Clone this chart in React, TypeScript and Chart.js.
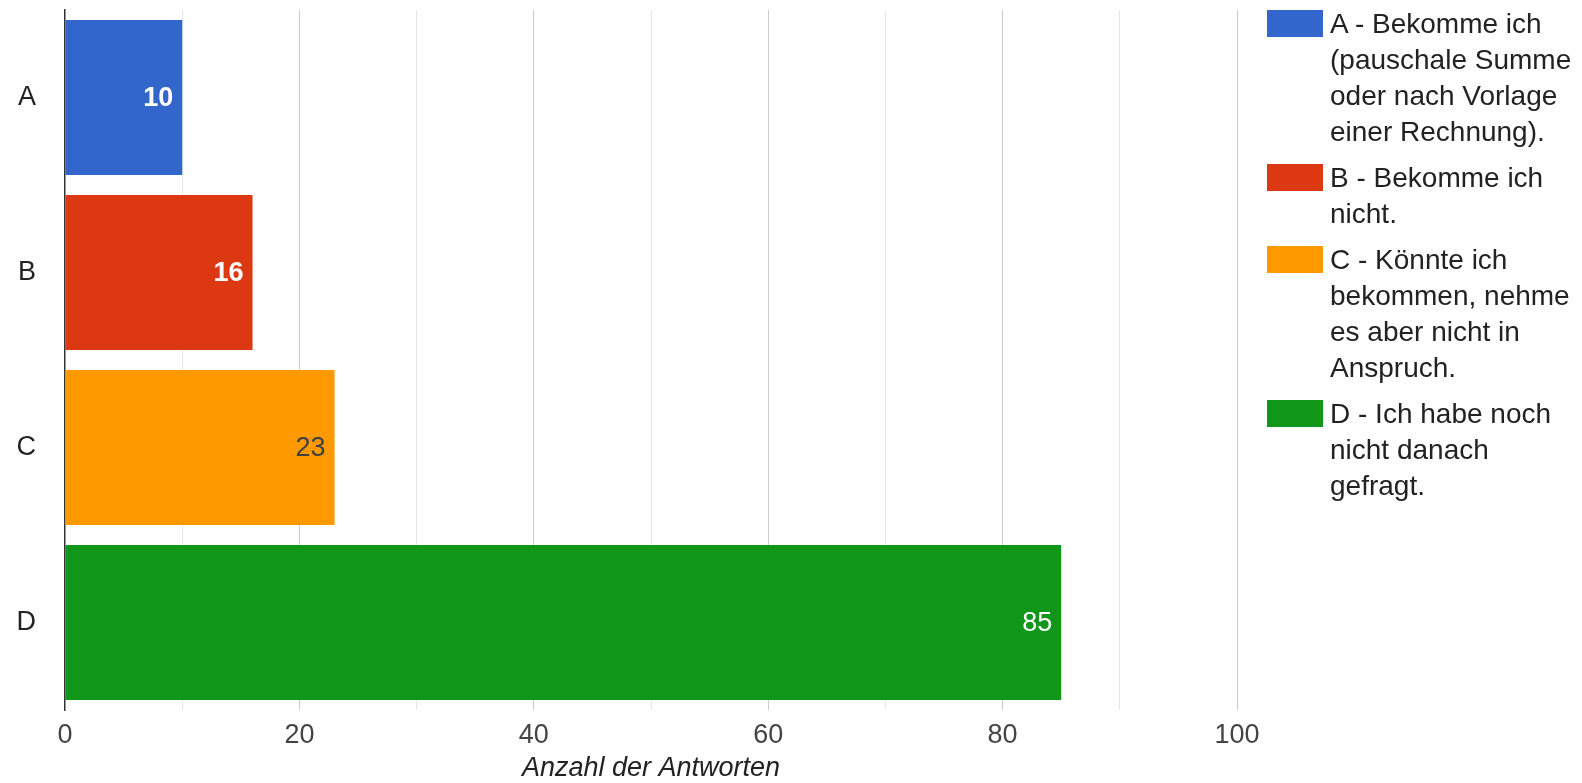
import React, { useEffect, useRef } from "react";
import { Chart, registerables } from "chart.js";

Chart.register(...registerables);

// Survey categories and number of answers
const categories = ["A", "B", "C", "D"];
const answers = [10, 16, 23, 85];
const legendLabels = [
  "A - Bekomme ich (pauschale Summe oder nach Vorlage einer Rechnung).",
  "B - Bekomme ich nicht.",
  "C - Könnte ich bekommen, nehme es aber nicht in Anspruch.",
  "D - Ich habe noch nicht danach gefragt.",
];
const barColors = ["#3366cc", "#dc3912", "#ff9900", "#109618"];
const valueLabelColors = ["#ffffff", "#ffffff", "#404040", "#ffffff"];
const valueLabelWeights = ["bold", "bold", "normal", "normal"];
const axisTitle = "Anzahl der Antworten";
const xMin = 0;
const xMax = 100;

const FONT = "'Liberation Sans', Arial, sans-serif";

// Writes each bar's value just inside its right end
const valueLabels = {
  id: "valueLabels",
  afterDatasetsDraw(chart: any) {
    const { ctx } = chart;
    const meta = chart.getDatasetMeta(0);
    ctx.save();
    ctx.textAlign = "right";
    ctx.textBaseline = "middle";
    meta.data.forEach((bar: any, i: number) => {
      ctx.font = `${valueLabelWeights[i]} 27px ${FONT}`;
      ctx.fillStyle = valueLabelColors[i];
      ctx.fillText(String(answers[i]), bar.x - 9, bar.y + 1);
    });
    ctx.restore();
  },
};

export default function App() {
  const canvasRef = useRef<HTMLCanvasElement | null>(null);

  useEffect(() => {
    if (!canvasRef.current) return;
    const chart = new Chart(canvasRef.current, {
      type: "bar",
      data: {
        labels: categories,
        datasets: [
          {
            data: answers,
            backgroundColor: barColors,
            borderWidth: 0,
            barPercentage: 0.886,
            categoryPercentage: 1,
          },
        ],
      },
      options: {
        indexAxis: "y",
        animation: false,
        responsive: false,
        devicePixelRatio: 1,
        layout: { padding: { top: 10, right: 345, bottom: 0, left: 0 } },
        plugins: {
          legend: { display: false },
          tooltip: { enabled: false },
        },
        scales: {
          x: {
            type: "linear",
            min: xMin,
            max: xMax,
            afterFit: (scale: any) => {
              scale.height = 73;
            },
            ticks: {
              stepSize: 10,
              autoSkip: false,
              maxRotation: 0,
              padding: 9,
              color: "#444444",
              font: { family: FONT, size: 27 },
              callback: (v: any) => (Number(v) % 20 === 0 ? String(v) : ""),
            },
            grid: {
              drawTicks: false,
              lineWidth: 1,
              color: (ctx: any) => {
                const v = ctx.tick ? ctx.tick.value : 0;
                if (v === 0) return "rgba(0,0,0,0)";
                return v % 20 === 0 ? "#cccccc" : "#e6e6e6";
              },
            },
            border: { display: false },
            title: {
              display: true,
              text: axisTitle,
              color: "#222222",
              font: { family: FONT, size: 27, style: "italic" },
              padding: { top: 0, bottom: -2 },
            },
          },
          y: {
            afterFit: (scale: any) => {
              scale.width = 65;
              scale.paddingTop = 0;
              scale.paddingBottom = 0;
            },
            ticks: {
              padding: 29,
              color: "#222222",
              font: { family: FONT, size: 27 },
            },
            grid: { display: false, drawTicks: false },
            border: { display: true, color: "#333333", width: 1.5 },
          },
        },
      },
      plugins: [valueLabels],
    });
    return () => chart.destroy();
  }, []);

  return (
    <div
      style={{
        position: "fixed",
        left: 0,
        top: 0,
        width: 1582,
        height: 783,
        background: "#ffffff",
        overflow: "hidden",
      }}
    >
      <canvas
        ref={canvasRef}
        width={1582}
        height={783}
        style={{ position: "absolute", left: 0, top: 0, width: 1582, height: 783 }}
      />
      <div
        style={{
          position: "absolute",
          left: 1267,
          top: 6,
          width: 315,
          fontFamily: FONT,
          fontSize: 28,
          lineHeight: "36px",
          color: "#222222",
        }}
      >
        {legendLabels.map((label, i) => (
          <div key={label} style={{ display: "flex", alignItems: "flex-start", marginBottom: 10 }}>
            <div
              style={{
                width: 56,
                height: 27,
                marginTop: 4,
                marginRight: 7,
                flex: "0 0 auto",
                background: barColors[i],
              }}
            />
            <div style={{ width: 250 }}>{label}</div>
          </div>
        ))}
      </div>
    </div>
  );
}
